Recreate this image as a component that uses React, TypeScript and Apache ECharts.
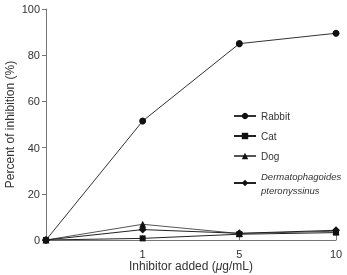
import React, { useEffect, useRef } from "react";
import * as echarts from "echarts";

// Inhibitor concentrations (µg/mL); 0 is the unlabelled origin
const doses = ["0", "1", "5", "10"];

// Percent of inhibition for each inhibitor source
const rabbit = [0, 51.5, 85, 89.5];
const cat = [0, 0.7, 2.5, 3.2];
const dog = [0, 6.8, 2.8, 3.8];
const dermatophagoides = [0, 4.5, 2.9, 4.2];

const yTicks = { min: 0, max: 100, interval: 20 };

const FONT = "Liberation Sans, Arial, sans-serif";

export default function App() {
  const ref = useRef<HTMLDivElement>(null);

  useEffect(() => {
    if (!ref.current) return;
    const chart = echarts.init(ref.current, undefined, { renderer: "svg" });

    const mk = (name: string, data: number[], symbol: string, size: number, color: string) => ({
      name,
      type: "line",
      data,
      symbol,
      symbolSize: size,
      showSymbol: true,
      lineStyle: { color, width: 1 },
      itemStyle: { color: "#111" },
    });

    chart.setOption({
      animation: false,
      textStyle: { fontFamily: FONT },
      grid: {
        left: 46,
        right: 11,
        top: 9,
        bottom: 35,
        containLabel: false,
        outerBoundsMode: "none",
      },
      xAxis: {
        type: "category",
        data: doses,
        boundaryGap: false,
        axisLine: { lineStyle: { color: "#777", width: 1 } },
        axisTick: {
          inside: true,
          length: 5,
          lineStyle: { color: "#777" },
          interval: (i: number) => i > 0,
        },
        axisLabel: {
          color: "#333",
          fontSize: 11,
          margin: 8,
          formatter: (v: string) => (v === "0" ? "" : v),
        },
        name: "{n|Inhibitor added (}{m|μ}{n|g/mL)}",
        nameLocation: "middle",
        nameGap: 20,
        nameMoveOverlap: false,
        nameTextStyle: {
          rich: {
            n: { fontSize: 12, color: "#333", fontFamily: FONT },
            m: { fontSize: 12, color: "#333", fontFamily: FONT, fontStyle: "italic" },
          },
        },
      },
      yAxis: {
        type: "value",
        ...yTicks,
        splitLine: { show: false },
        axisLine: { show: true, lineStyle: { color: "#777", width: 1 } },
        axisTick: { show: true, length: 4, lineStyle: { color: "#777" } },
        axisLabel: { color: "#333", fontSize: 11, margin: 6 },
        name: "Percent of inhibition (%)",
        nameLocation: "middle",
        nameGap: 30,
        nameMoveOverlap: false,
        nameTextStyle: { fontSize: 12, color: "#333" },
      },
      legend: {
        orient: "vertical",
        left: 228,
        top: 106,
        itemWidth: 22,
        itemHeight: 8,
        itemGap: 10,
        textStyle: {
          fontSize: 10,
          color: "#333",
          rich: {
            i: { fontSize: 9.5, color: "#333", fontStyle: "italic", lineHeight: 14, fontFamily: FONT },
          },
        },
        formatter: (name: string) =>
          name === "Dermatophagoides pteronyssinus"
            ? "{i|Dermatophagoides}\n{i|pteronyssinus}"
            : name,
        data: ["Rabbit", "Cat", "Dog", "Dermatophagoides pteronyssinus"],
      },
      series: [
        mk("Rabbit", rabbit, "circle", 7, "#333"),
        mk("Cat", cat, "rect", 6, "#222"),
        mk("Dog", dog, "triangle", 7, "#555"),
        mk("Dermatophagoides pteronyssinus", dermatophagoides, "diamond", 8, "#222"),
      ],
    });

    return () => chart.dispose();
  }, []);

  return (
    <div
      ref={ref}
      style={{ position: "fixed", left: 0, top: 0, width: 347, height: 275 }}
    />
  );
}
